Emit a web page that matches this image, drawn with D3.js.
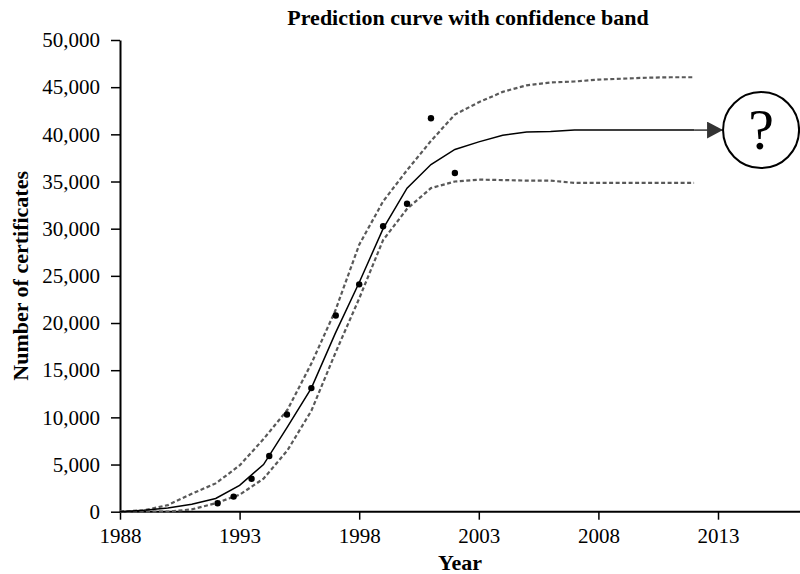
<!DOCTYPE html>
<html>
<head>
<meta charset="utf-8">
<script src="https://cdn.jsdelivr.net/npm/d3@7"></script>
<style>
  body { margin: 0; background: #fff; }
  svg { display: block; font-family: "Liberation Serif", "Times New Roman", serif; }
</style>
</head>
<body>
<svg width="800" height="574"></svg>
<script>
const years = [1988, 1989, 1990, 1991, 1992, 1993, 1994, 1995, 1996, 1997, 1998, 1999, 2000,
  2001, 2002, 2003, 2004, 2005, 2006, 2007, 2008, 2009, 2010, 2011, 2012];
const fitted = [0, 150, 400, 800, 1400, 2800, 5000, 9000, 13100, 18900, 24300, 30000, 34300,
  36800, 38400, 39200, 39900, 40250, 40300, 40450, 40450, 40450, 40450, 40450, 40450];
const upper = [0, 150, 700, 1900, 3000, 4900, 7700, 10800, 15700, 21300, 28300, 32900, 36200,
  39300, 42100, 43400, 44500, 45200, 45500, 45600, 45800, 45900, 46000, 46050, 46050];
const lower = [0, 0, 0, 250, 900, 1800, 3500, 6500, 10700, 16800, 22600, 28800, 32100,
  34300, 35000, 35200, 35150, 35100, 35100, 34850, 34850, 34850, 34850, 34850, 34850];

const obsYears = [1992.08, 1992.75, 1993.5, 1994.24, 1994.98, 1996.0, 1997.02, 1998.0, 1999.0, 2000.0, 2001.0, 2002.0];
const obsValues = [900, 1600, 3500, 5900, 10300, 13100, 20800, 24100, 30250, 32650, 41700, 35900];

const xTicks = [1988, 1993, 1998, 2003, 2008, 2013];
const yTicks = [0, 5000, 10000, 15000, 20000, 25000, 30000, 35000, 40000, 45000, 50000];

// where the "?" sits, in data units
const question = { year: 2014.8, value: 40450 };

const svg = d3.select("svg");
const plotLeft = 120, plotBottom = 511.7, plotTop = 40;

const x = d3.scaleLinear().domain([1988, 2017]).range([plotLeft, plotLeft + 29 * 23.92]);
const y = d3.scaleLinear().domain([0, 50000]).range([plotBottom, plotTop]);

// axes
const xAxis = svg.append("g")
  .attr("transform", `translate(0,${plotBottom})`)
  .call(d3.axisBottom(x).tickValues(xTicks).tickFormat(d3.format("d"))
    .tickSize(8).tickSizeOuter(0).tickPadding(8));
xAxis.select(".domain").attr("d", `M${plotLeft},0H800`);

const yAxis = svg.append("g")
  .attr("transform", `translate(${plotLeft},0)`)
  .call(d3.axisLeft(y).tickValues(yTicks).tickFormat(d3.format(","))
    .tickSize(9).tickSizeOuter(0).tickPadding(11));

svg.selectAll(".domain").attr("stroke", "#000").attr("stroke-width", 2);
svg.selectAll(".tick line").attr("stroke", "#000").attr("stroke-width", 1.5);
svg.selectAll(".tick text")
  .attr("font-family", "Liberation Serif, Times New Roman, serif")
  .attr("font-size", 21)
  .attr("fill", "#000");

// lines
const rows = years.map((yr, i) => ({ yr, fit: fitted[i], hi: upper[i], lo: lower[i] }));
const lineOf = key => d3.line().x(d => x(d.yr)).y(d => y(d[key]));

svg.append("path").datum(rows)
  .attr("d", lineOf("hi"))
  .attr("fill", "none").attr("stroke", "#595959")
  .attr("stroke-width", 2.2).attr("stroke-dasharray", "4,2.5");

svg.append("path").datum(rows)
  .attr("d", lineOf("lo"))
  .attr("fill", "none").attr("stroke", "#595959")
  .attr("stroke-width", 2.2).attr("stroke-dasharray", "4,2.5");

svg.append("path").datum(rows)
  .attr("d", lineOf("fit"))
  .attr("fill", "none").attr("stroke", "#000")
  .attr("stroke-width", 1.5);

// observed points
svg.selectAll(".obs")
  .data(obsYears.map((yr, i) => ({ yr, v: obsValues[i] })))
  .enter().append("circle")
  .attr("class", "obs")
  .attr("cx", d => x(d.yr))
  .attr("cy", d => y(d.v))
  .attr("r", 3.2)
  .attr("fill", "#000");

// arrow to the question mark
const r = 38;
const last = rows[rows.length - 1];
const cx = x(question.year), cy = y(question.value);

svg.append("defs").append("marker")
  .attr("id", "head")
  .attr("viewBox", "0 0 16 17")
  .attr("refX", 16).attr("refY", 8.5)
  .attr("markerWidth", 16).attr("markerHeight", 17)
  .attr("markerUnits", "userSpaceOnUse")
  .attr("orient", "auto")
  .append("path")
  .attr("d", "M0,0L16,8.5L0,17Z")
  .attr("fill", "#333");

svg.append("line")
  .attr("x1", x(last.yr)).attr("y1", y(last.fit))
  .attr("x2", cx - r).attr("y2", cy)
  .attr("stroke", "#333").attr("stroke-width", 1.5)
  .attr("marker-end", "url(#head)");

svg.append("circle")
  .attr("cx", cx).attr("cy", cy).attr("r", r)
  .attr("fill", "#fff").attr("stroke", "#000").attr("stroke-width", 2);

svg.append("text")
  .attr("x", cx).attr("y", cy + 19)
  .attr("text-anchor", "middle")
  .attr("font-size", 58)
  .text("?");

// titles
svg.append("text")
  .attr("x", 468).attr("y", 25)
  .attr("text-anchor", "middle")
  .attr("font-size", 22).attr("font-weight", "bold")
  .text("Prediction curve with confidence band");

svg.append("text")
  .attr("x", 460).attr("y", 570)
  .attr("text-anchor", "middle")
  .attr("font-size", 22).attr("font-weight", "bold")
  .text("Year");

svg.append("text")
  .attr("transform", `translate(28,${(plotTop + plotBottom) / 2}) rotate(-90)`)
  .attr("text-anchor", "middle")
  .attr("font-size", 22).attr("font-weight", "bold")
  .text("Number of certificates");
</script>
</body>
</html>
